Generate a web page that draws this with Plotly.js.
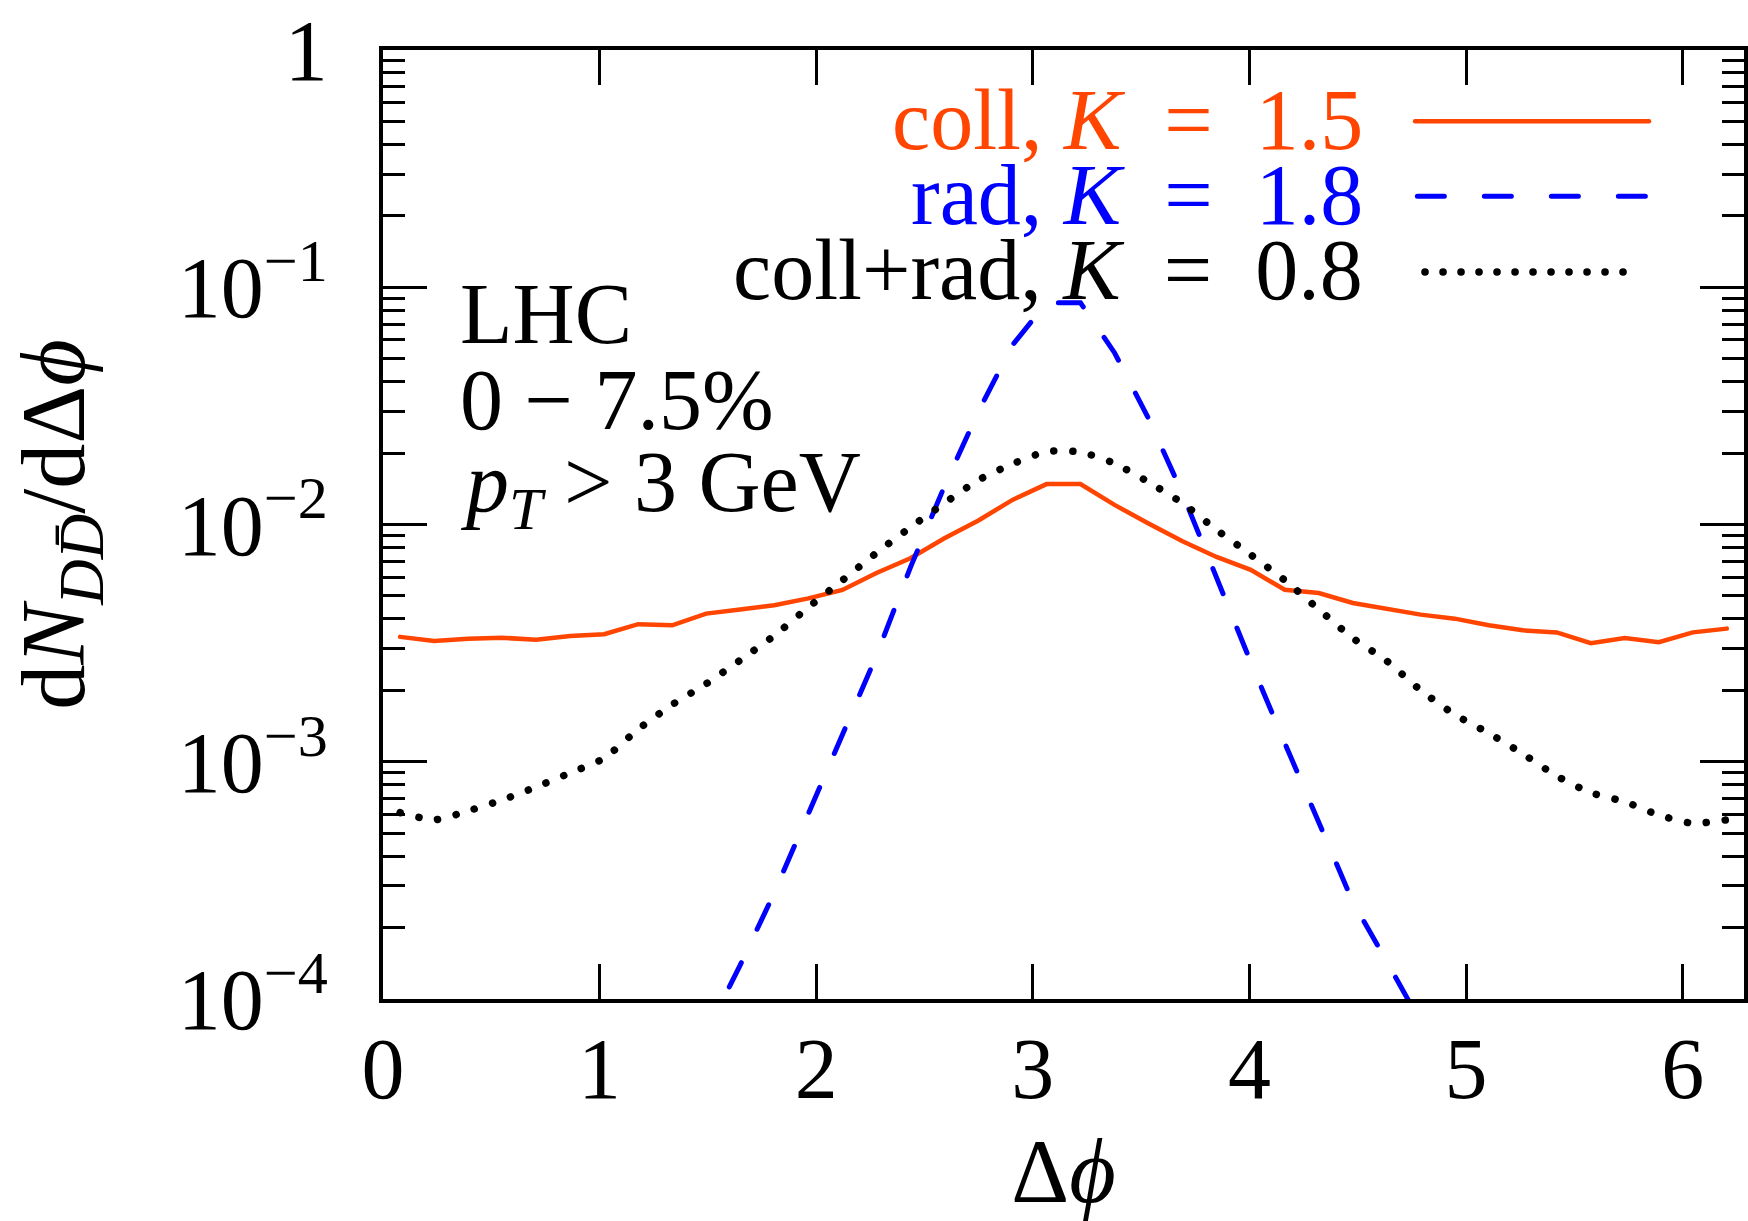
<!DOCTYPE html>
<html>
<head>
<meta charset="utf-8">
<script src="https://cdn.plot.ly/plotly-3.0.1.min.js"></script>
<style>
  html, body { margin: 0; padding: 0; background: #fff; }
  #chart { width: 1748px; height: 1221px; }
  .js-line, .shapelayer path { stroke-linecap: round; }
</style>
</head>
<body>
<div id="chart"></div>
<script>
// Δφ bin centres
const dphi = [0.079, 0.236, 0.393, 0.550, 0.707, 0.864, 1.021, 1.178, 1.335, 1.492,
              1.649, 1.806, 1.964, 2.121, 2.278, 2.435, 2.592, 2.749, 2.906, 3.063,
              3.220, 3.377, 3.534, 3.691, 3.848, 4.006, 4.163, 4.320, 4.477, 4.634,
              4.791, 4.948, 5.105, 5.262, 5.419, 5.576, 5.733, 5.890, 6.047, 6.204];

// coll, K = 1.5
const collVals = [3.36e-3, 3.23e-3, 3.30e-3, 3.33e-3, 3.27e-3, 3.39e-3, 3.45e-3, 3.80e-3, 3.76e-3, 4.21e-3,
                  4.38e-3, 4.57e-3, 4.88e-3, 5.30e-3, 6.25e-3, 7.21e-3, 8.75e-3, 1.04e-2, 1.27e-2, 1.48e-2,
                  1.48e-2, 1.21e-2, 1.01e-2, 8.5e-3, 7.3e-3, 6.44e-3, 5.31e-3, 5.14e-3, 4.67e-3, 4.41e-3,
                  4.17e-3, 4.01e-3, 3.76e-3, 3.58e-3, 3.51e-3, 3.16e-3, 3.32e-3, 3.19e-3, 3.51e-3, 3.64e-3];

// rad, K = 1.8 (visible part)
const radPhi = [1.335, 1.492, 1.649, 1.806, 1.964, 2.121, 2.278, 2.435, 2.592, 2.749, 2.906, 3.063,
                3.220, 3.377, 3.534, 3.691, 3.848, 4.006, 4.163, 4.320, 4.477, 4.634, 4.791, 4.948];
const radVals = [3.7e-5, 7.2e-5, 1.39e-4, 2.8e-4, 6.0e-4, 1.29e-3, 2.8e-3, 6.6e-3, 1.45e-2, 3.0e-2, 5.7e-2, 8.6e-2,
                 8.6e-2, 5.3e-2, 2.8e-2, 1.35e-2, 5.9e-3, 2.63e-3, 1.2e-3, 5.6e-4, 2.57e-4, 1.44e-4, 7.9e-5, 4.4e-5];

// coll+rad, K = 0.8
const bothVals = [6.1e-4, 5.69e-4, 6.21e-4, 6.9e-4, 7.83e-4, 8.97e-4, 1.035e-3, 1.37e-3, 1.74e-3, 2.13e-3,
                  2.68e-3, 3.40e-3, 4.48e-3, 5.82e-3, 7.59e-3, 9.73e-3, 1.23e-2, 1.54e-2, 1.80e-2, 2.03e-2,
                  2.02e-2, 1.81e-2, 1.51e-2, 1.23e-2, 9.5e-3, 7.46e-3, 5.82e-3, 4.39e-3, 3.32e-3, 2.66e-3,
                  2.0e-3, 1.58e-3, 1.32e-3, 1.08e-3, 8.7e-4, 7.41e-4, 6.78e-4, 5.96e-4, 5.5e-4, 5.69e-4];

const seriesNames = ['coll, <i>K</i>\u2002=\u20021.5', 'rad, <i>K</i>\u2002=\u20021.8', 'coll+rad, <i>K</i>\u2002=\u20020.8'];
const seriesColors = ['#ff4500', '#0000ff', '#000000'];

const xTickVals = [0, 1, 2, 3, 4, 5, 6];
const xTickText = ['0', '1', '2', '3', '4', '5', '6'];
const yTickVals = [1e-4, 1e-3, 1e-2, 1e-1, 1];
const yTickText = ['10<sup>\u22124</sup>', '10<sup>\u22123</sup>', '10<sup>\u22122</sup>', '10<sup>\u22121</sup>', '1'];
const xRange = [0, 6.2832];
const yRangeLog = [-4, 0];

const infoLines = ['LHC', '0 \u2212 7.5%', '<i>p</i><sub><i>T</i></sub> &gt; 3 GeV'];

const FONT = 'Liberation Serif, Times New Roman, serif';
const FS = 86;

const traces = [
  { x: dphi, y: collVals, mode: 'lines', line: { color: seriesColors[0], width: 4.5 }, showlegend: false },
  { x: radPhi, y: radVals, mode: 'lines', line: { color: seriesColors[1], width: 5, dash: '27px,37px' }, showlegend: false },
  { x: dphi, y: bothVals, mode: 'lines', line: { color: seriesColors[2], width: 7.5, dash: '0.1px,19px', shape: 'spline', smoothing: 0.6 }, showlegend: false }
];

const legendTop = [0.979, 0.900, 0.821];
const legendLineY = [0.9249, 0.846, 0.766];
const annotations = [];
const shapes = [];
for (let k = 0; k < 3; k++) {
  annotations.push({
    xref: 'paper', yref: 'paper', x: 0.7215, y: legendTop[k], xanchor: 'right', yanchor: 'top',
    text: seriesNames[k], showarrow: false, font: { family: FONT, size: FS, color: seriesColors[k] }
  });
}
shapes.push({ type: 'line', xref: 'paper', yref: 'paper', x0: 0.7583, x1: 0.9302, y0: legendLineY[0], y1: legendLineY[0], line: { color: seriesColors[0], width: 4.5 } });
shapes.push({ type: 'line', xref: 'paper', yref: 'paper', x0: 0.7600, x1: 0.9285, y0: legendLineY[1], y1: legendLineY[1], line: { color: seriesColors[1], width: 5, dash: '27px,40px' } });
shapes.push({ type: 'line', xref: 'paper', yref: 'paper', x0: 0.7656, x1: 0.9230, y0: legendLineY[2], y1: legendLineY[2], line: { color: seriesColors[2], width: 7.5, dash: '0.1px,17.9px' } });

const infoTop = [0.775, 0.684, 0.597];
for (let k = 0; k < 3; k++) {
  annotations.push({
    xref: 'paper', yref: 'paper', x: 0.055, y: infoTop[k], xanchor: 'left', yanchor: 'top',
    text: infoLines[k], showarrow: false, font: { family: FONT, size: FS, color: '#000' }
  });
}

const layout = {
  width: 1748, height: 1221,
  margin: { l: 383, r: 4, t: 50, b: 222, pad: 0 },
  paper_bgcolor: '#fff', plot_bgcolor: '#fff',
  font: { family: FONT, size: FS, color: '#000' },
  showlegend: false,
  xaxis: {
    range: xRange, tickmode: 'array', tickvals: xTickVals, ticktext: xTickText,
    ticks: 'inside', ticklen: 35, tickwidth: 3, tickcolor: '#000',
    showline: true, linewidth: 4, linecolor: '#000', mirror: 'ticks',
    showgrid: false, zeroline: false, ticklabelstandoff: -8,
    tickfont: { family: FONT, size: FS, color: '#000' },
    title: { text: '\u0394<i>\u03d5</i>', font: { family: FONT, size: 90, color: '#000' }, standoff: 28 }
  },
  yaxis: {
    type: 'log', range: yRangeLog, tickmode: 'array', tickvals: yTickVals, ticktext: yTickText,
    ticks: 'inside', ticklen: 44, tickwidth: 3, tickcolor: '#000',
    minor: { ticks: 'inside', ticklen: 22, tickwidth: 3, tickcolor: '#000', dtick: 'D1', showgrid: false },
    showline: true, linewidth: 4, linecolor: '#000', mirror: 'ticks',
    showgrid: false, zeroline: false, ticklabelstandoff: 34,
    tickfont: { family: FONT, size: FS, color: '#000' },
    title: { text: 'd<i>N</i><sub><i>D</i><i>D\u0304</i></sub>/d\u0394<i>\u03d5</i>', font: { family: FONT, size: 90, color: '#000' }, standoff: 64 }
  },
  annotations: annotations,
  shapes: shapes
};

Plotly.newPlot('chart', traces, layout, { staticPlot: true, displayModeBar: false });
</script>
</body>
</html>
